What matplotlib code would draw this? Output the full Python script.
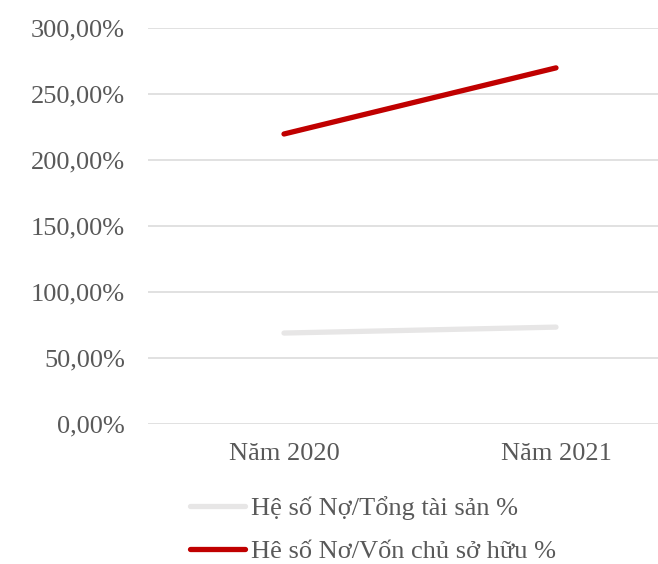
import matplotlib
matplotlib.use("Agg")
import matplotlib.pyplot as plt
from matplotlib.ticker import FuncFormatter

categories = ["Năm 2020", "Năm 2021"]
debt_assets = [68.9, 73.4]
debt_equity = [219.7, 269.8]
series_names = ["Hệ số Nợ/Tổng tài sản %", "Hê số Nơ/Vốn chủ sở hữu %"]
yticks = [0, 50, 100, 150, 200, 250, 300]

plt.rcParams['font.family'] = ['Liberation Serif', 'DejaVu Serif']
txt = '#595959'

fig = plt.figure(figsize=(6.58, 5.64), dpi=100)
ax = fig.add_axes([148/658, 1-424/564, 544/658, 396/564])

x = list(range(len(categories)))
ax.plot(x, debt_assets, color='#E7E6E6', lw=3.8, solid_capstyle='round', label=series_names[0], zorder=3)
ax.plot(x, debt_equity, color='#C00000', lw=3.8, solid_capstyle='round', label=series_names[1], zorder=3)

ax.set_xlim(-0.5, 1.5)
ax.set_ylim(0, 300)
ax.set_yticks(yticks)
ax.yaxis.set_major_formatter(FuncFormatter(lambda v, p: f"{v:.2f}".replace('.', ',') + "%"))
ax.set_xticks(x)
ax.set_xticklabels(categories)
ax.grid(axis='y', color='#D9D9D9', lw=1.1)
ax.set_axisbelow(True)
for s in ax.spines.values():
    s.set_visible(False)
ax.tick_params(axis='both', length=0, labelsize=19, colors=txt)
ax.tick_params(axis='y', pad=16.5)
ax.tick_params(axis='x', pad=14)

leg = fig.legend(loc='upper left', bbox_to_anchor=(190/658, 1-496/564), frameon=False,
                 fontsize=19, labelcolor=txt, handlelength=2.1, handletextpad=0.2,
                 labelspacing=0.74, borderaxespad=0, borderpad=0)

fig.savefig("out.png", dpi=100, facecolor='white')
